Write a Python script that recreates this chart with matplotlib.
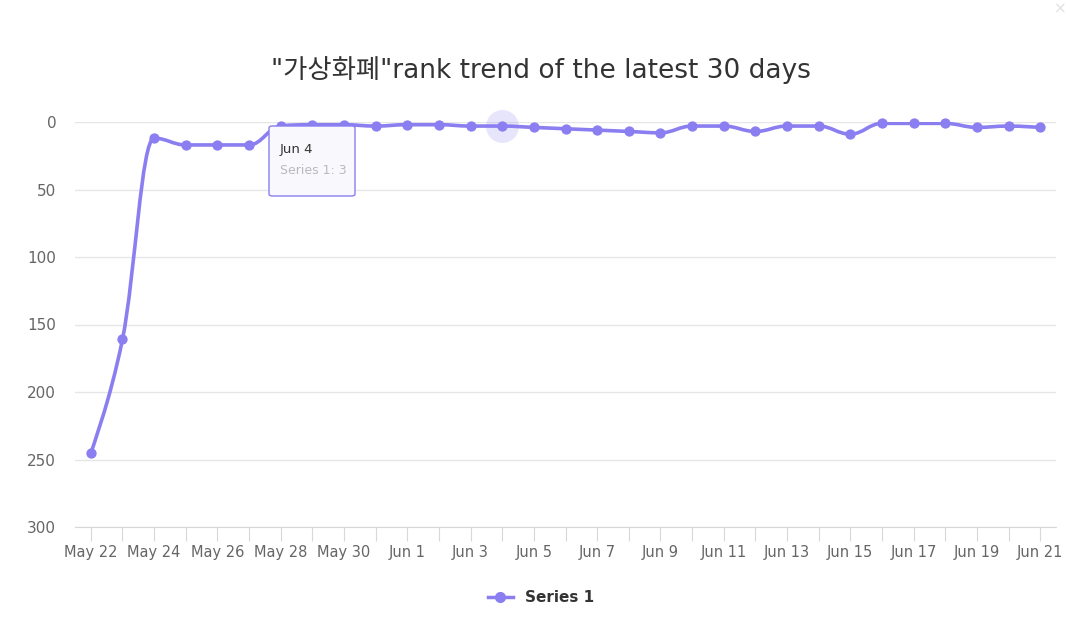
import numpy as np
import matplotlib
matplotlib.use("Agg")
import matplotlib.pyplot as plt
from matplotlib.path import Path
from matplotlib.patches import PathPatch, FancyBboxPatch

plt.rcParams['font.family'] = ['DejaVu Sans', 'Noto Sans CJK KR']

# data
days = ['May 22', 'May 23', 'May 24', 'May 25', 'May 26', 'May 27', 'May 28',
        'May 29', 'May 30', 'May 31', 'Jun 1', 'Jun 2', 'Jun 3', 'Jun 4',
        'Jun 5', 'Jun 6', 'Jun 7', 'Jun 8', 'Jun 9', 'Jun 10', 'Jun 11',
        'Jun 12', 'Jun 13', 'Jun 14', 'Jun 15', 'Jun 16', 'Jun 17', 'Jun 18',
        'Jun 19', 'Jun 20', 'Jun 21']
ranks = [245, 161, 12, 17, 17, 17, 3, 2, 2, 3, 2, 2, 3, 3,
         4, 5, 6, 7, 8, 3, 3, 7, 3, 3, 9, 1, 1, 1, 4, 3, 4]
y_ticks = [0, 50, 100, 150, 200, 250, 300]
title = '"가상화폐"rank trend of the latest 30 days'
series_name = 'Series 1'
hover_idx = 13

color = '#8a7ef0'
x = np.arange(len(days))
y = np.array(ranks, dtype=float)


def spline_path(xs, ys, smoothing=1.5):
    # highcharts-style spline control points
    n = len(xs)
    verts = [(xs[0], ys[0])]
    codes = [Path.MOVETO]
    lc, rc = [None] * n, [None] * n
    denom = smoothing + 1
    for i in range(n):
        if i == 0 or i == n - 1:
            lc[i] = rc[i] = (xs[i], ys[i])
            continue
        lx = (smoothing * xs[i] + xs[i - 1]) / denom
        ly = (smoothing * ys[i] + ys[i - 1]) / denom
        rx = (smoothing * xs[i] + xs[i + 1]) / denom
        ry = (smoothing * ys[i] + ys[i + 1]) / denom
        corr = (ry - ly) * (rx - xs[i]) / (rx - lx) + ys[i] - ry
        ly += corr
        ry += corr
        if ly > ys[i - 1] and ly > ys[i]:
            ly = max(ys[i - 1], ys[i]); ry = 2 * ys[i] - ly
        elif ly < ys[i - 1] and ly < ys[i]:
            ly = min(ys[i - 1], ys[i]); ry = 2 * ys[i] - ly
        if ry > ys[i + 1] and ry > ys[i]:
            ry = max(ys[i + 1], ys[i]); ly = 2 * ys[i] - ry
        elif ry < ys[i + 1] and ry < ys[i]:
            ry = min(ys[i + 1], ys[i]); ly = 2 * ys[i] - ry
        lc[i] = (lx, ly)
        rc[i] = (rx, ry)
    for i in range(1, n):
        verts += [rc[i - 1], lc[i], (xs[i], ys[i])]
        codes += [Path.CURVE4] * 3
    return Path(verts, codes)


fig = plt.figure(figsize=(10.82, 6.35), dpi=100)
ax = fig.add_axes([75 / 1082, 1 - 527 / 635, (1056 - 75) / 1082, (527 - 122) / 635])

ax.set_xlim(-0.5, 30.5)
ax.set_ylim(300, 0)

ax.add_patch(PathPatch(spline_path(x, y), fill=False, edgecolor=color,
                       linewidth=2.6, zorder=3, capstyle='round', joinstyle='round'))
ax.scatter(x[hover_idx], y[hover_idx], s=560, color=color, alpha=0.2,
           linewidths=0, zorder=2, clip_on=False)
ax.scatter(x, y, s=55, color=color, zorder=4, linewidths=0, clip_on=False)

ax.set_yticks(y_ticks)
ax.set_yticklabels([str(v) for v in y_ticks])
ax.grid(axis='y', color='#e6e6e6', linewidth=1)
ax.set_axisbelow(True)
ax.set_xticks(x)
ax.set_xticklabels([d if i % 2 == 0 else '' for i, d in enumerate(days)])
ax.tick_params(axis='x', length=10, color='#d8d8d8', colors='#666666',
               labelsize=10.5, pad=3)
ax.tick_params(axis='y', length=0, colors='#666666', labelsize=11, pad=22)
for lbl in ax.get_yticklabels():
    lbl.set_x(0.012)
for s in ['top', 'right', 'left']:
    ax.spines[s].set_visible(False)
ax.spines['bottom'].set_color('#d8d8d8')
ax.spines['bottom'].set_position(('data', 300))

fig.text(0.5, 1 - 70 / 635, title, ha='center', va='center',
         fontsize=19, color='#333333')

# tooltip at hovered point
tip = FancyBboxPatch((269 / 1082, 1 - 196 / 635), 86 / 1082, 70 / 635,
                     boxstyle='round,pad=0,rounding_size=0.003',
                     transform=fig.transFigure, facecolor='#f9f9fd',
                     edgecolor=color, linewidth=1, zorder=10)
fig.patches.append(tip)
fig.text(280 / 1082, 1 - 149 / 635, days[hover_idx], fontsize=9.5,
         color='#333333', va='center', zorder=11)
fig.text(280 / 1082, 1 - 171 / 635, f'{series_name}: {ranks[hover_idx]}',
         fontsize=9, color='#aaaaaa', alpha=0.8, va='center', zorder=11)

# legend
leg = ax.legend([plt.Line2D([], [], color=color, marker='o', markersize=7,
                            linewidth=2.5)], [series_name],
                loc='center', bbox_to_anchor=(0.5, 1 - 598 / 635),
                bbox_transform=fig.transFigure, frameon=False,
                handlelength=1.6, prop={'weight': 'bold', 'size': 11})
for t in leg.get_texts():
    t.set_color('#333333')

fig.text(1060 / 1082, 1 - 9 / 635, '×', fontsize=11, color='#e0e0e0',
         ha='center', va='center')

fig.savefig('out.png', dpi=100)
